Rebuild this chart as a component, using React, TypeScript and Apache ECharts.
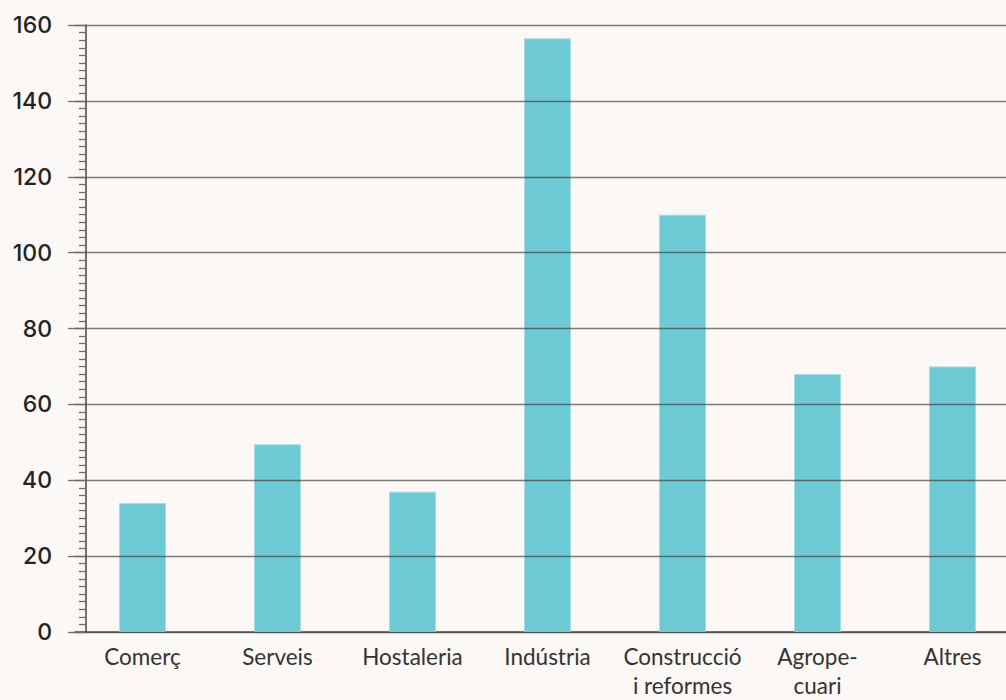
import React, { useEffect, useRef } from "react";
import * as echarts from "echarts";

const categories = ["Comerç", "Serveis", "Hostaleria", "Indústria", "Construcció\ni reformes", "Agrope-\ncuari", "Altres"];
const values = [34, 49.5, 37, 156.5, 110, 68, 70];
const yTicks = { min: 0, max: 160, interval: 20 };

const BG = "#fbf8f5";

export default function App() {
  const ref = useRef<HTMLDivElement>(null);
  useEffect(() => {
    document.body.style.margin = "0";
    document.body.style.background = BG;
    document.body.style.overflow = "hidden";
    document.documentElement.style.overflow = "hidden";
    const chart = echarts.init(ref.current!, undefined, { renderer: "svg" });
    chart.setOption({
      animation: false,
      backgroundColor: BG,
      grid: { left: 75, top: 25, width: 945, height: 608.5 },
      xAxis: {
        type: "category",
        data: categories,
        axisLine: { lineStyle: { color: "#555", width: 1.5 } },
        axisTick: { show: false },
        axisLabel: {
          color: "#333",
          fontFamily: "Lato",
          fontSize: 22.5,
          lineHeight: 29,
          margin: 10,
          interval: 0,
        },
      },
      yAxis: {
        type: "value",
        min: yTicks.min,
        max: yTicks.max,
        interval: yTicks.interval,
        offset: -11,
        z: 5,
        axisLine: { show: true, lineStyle: { color: "#444", width: 1.5 } },
        axisTick: { show: true, length: 18, lineStyle: { color: "#6e6a68", width: 1.3 } },
        minorTick: { show: true, splitNumber: 10, length: 7, lineStyle: { color: "#6e6a68", width: 1.3 } },
        splitLine: { show: true, lineStyle: { color: "rgba(60,55,52,0.65)", width: 1.4 } },
        axisLabel: {
          color: "#222",
          fontFamily: "Inter",
          fontWeight: 500,
          fontSize: 23,
          margin: 34,
        },
      },
      series: [
        {
          type: "bar",
          data: values,
          barWidth: 47,
          itemStyle: { color: "#6dc9d4", borderColor: "#a6dde4", borderWidth: 1 },
        },
      ],
    });
    return () => chart.dispose();
  }, []);
  return <div ref={ref} style={{ width: 1021, height: 700 }} />;
}
